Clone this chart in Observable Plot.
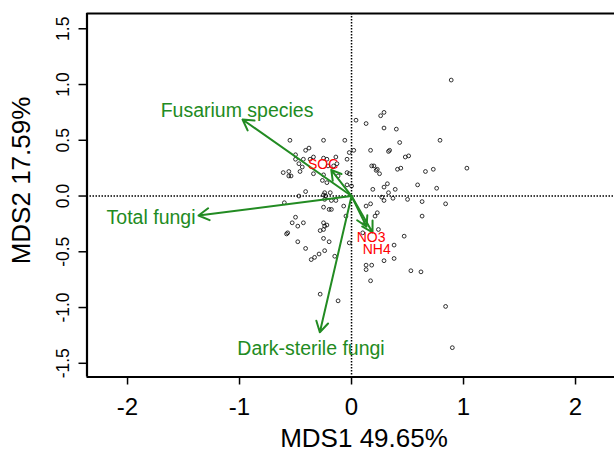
<!DOCTYPE html>
<html><head><meta charset="utf-8">
<script src="https://cdn.jsdelivr.net/npm/d3@7"></script>
<script src="https://cdn.jsdelivr.net/npm/@observablehq/plot@0.6"></script>
<style>
body{margin:0;background:#fff;}
#chart svg{display:block;overflow:visible;}
</style></head><body><div id="chart"></div>
<script>
// Site scores (MDS1, MDS2)
const siteX = [0.89,0.04,0.13,0.26,0.29,0.29,0.40,0.79,0.43,-0.55,-0.25,-0.06,-0.02,0.02,0.17,0.33,0.34,0.48,0.51,-0.50,
  -0.41,-0.38,-0.43,-0.34,-0.37,-0.47,-0.44,-0.50,-0.61,-0.56,-0.56,-0.54,-0.46,-0.25,-0.22,-0.13,-0.04,-0.14,-0.34,-0.26,
  -0.22,-0.12,-0.04,-0.02,-0.04,0.00,0.18,0.20,0.22,0.23,0.25,0.41,0.44,0.66,0.73,1.03,0.32,0.29,0.39,0.19,
  0.59,0.76,-0.41,-0.47,-0.24,-0.19,-0.23,-0.25,-0.60,-0.18,-0.14,0.27,0.29,0.37,0.50,0.63,0.84,0.17,0.13,-0.25,
  -0.20,-0.18,-0.07,-0.50,-0.05,0.23,0.21,0.63,-0.53,-0.48,-0.43,-0.25,-0.22,-0.24,-0.25,-0.28,-0.58,-0.57,-0.48,-0.25,
  -0.20,-0.41,-0.24,-0.29,-0.33,-0.36,-0.15,-0.02,0.12,0.24,0.47,0.38,0.38,0.29,0.13,0.13,0.18,0.53,0.62,0.17,
  -0.28,-0.12,0.84,0.90,-0.21,-0.16,0.10,0.33,-0.24,-0.25];
const siteY = [1.04,0.68,0.65,0.72,0.75,0.61,0.60,0.50,0.48,0.50,0.50,0.50,0.39,0.41,0.41,0.40,0.41,0.35,0.36,0.37,
  0.41,0.43,0.33,0.35,0.33,0.29,0.26,0.33,0.21,0.22,0.18,0.18,0.22,0.34,0.33,0.29,0.33,0.35,0.20,0.14,
  0.12,0.18,0.21,0.20,0.10,0.09,0.27,0.27,0.23,0.24,0.20,0.24,0.25,0.22,0.24,0.25,0.11,0.08,0.06,0.06,
  0.10,0.07,0.04,0.00,0.03,0.03,0.00,0.01,-0.06,-0.04,-0.04,-0.01,-0.04,-0.02,-0.03,-0.05,-0.07,-0.07,-0.09,-0.10,
  -0.12,-0.12,-0.09,-0.19,-0.18,-0.15,-0.18,-0.18,-0.24,-0.27,-0.24,-0.24,-0.26,-0.27,-0.30,-0.31,-0.34,-0.33,-0.41,-0.38,
  -0.41,-0.47,-0.49,-0.52,-0.55,-0.57,-0.54,-0.42,-0.24,-0.30,-0.36,-0.44,-0.56,-0.58,-0.62,-0.66,-0.62,-0.67,-0.68,-0.76,
  -0.88,-0.94,-0.99,-1.36,0.27,0.27,-0.33,0.03,-0.03,0.19];

// Species vectors
const speciesNames = ["Fusarium species", "Total fungi", "Dark-sterile fungi"];
const speciesX = [-0.973, -1.366, -0.283];
const speciesY = [0.686, -0.175, -1.222];
const speciesLabelX = [-1.022, -1.79, -0.362];
const speciesLabelY = [0.767, -0.193, -1.368];

// Environmental vectors
const envNames = ["SOC", "NO3", "NH4"];
const envX = [-0.181, 0.134, 0.1875];
const envY = [0.235, -0.274, -0.327];
const envLabelX = [-0.253, 0.174, 0.225];
const envLabelY = [0.283, -0.374, -0.477];

const xTicks = [-2, -1, 0, 1, 2];
const yTicks = [-1.5, -1, -0.5, 0, 0.5, 1, 1.5];
const xDomain = [-2.362, 2.348];
const yDomain = [-1.623, 1.637];
const xTitle = "MDS1 49.65%";
const yTitle = "MDS2 17.59%";

const sites = siteX.map((x, i) => ({x, y: siteY[i]}));
const species = speciesNames.map((name, i) => ({name, x0: 0, y0: 0, x: speciesX[i], y: speciesY[i], lx: speciesLabelX[i], ly: speciesLabelY[i]}));
const env = envNames.map((name, i) => ({name, x0: 0, y0: 0, x: envX[i], y: envY[i], lx: envLabelX[i], ly: envLabelY[i]}));
const green = "#228B22";

const chart = Plot.plot({
  width: 614, height: 450,
  marginLeft: 86.5, marginRight: 0, marginTop: 13, marginBottom: 73.5,
  style: {fontFamily: "'Liberation Sans', Arial, sans-serif", background: "white", overflow: "visible"},
  x: {domain: xDomain},
  y: {domain: yDomain},
  marks: [
    Plot.ruleX([0], {stroke: "black", strokeWidth: 1.5, strokeDasharray: "1.5,1.5"}),
    Plot.ruleY([0], {stroke: "black", strokeWidth: 1.5, strokeDasharray: "1.5,1.5"}),
    Plot.dot(sites, {x: "x", y: "y", r: 1.9, stroke: "black", strokeWidth: 0.8, fill: "none"}),
    Plot.arrow(species, {x1: "x0", y1: "y0", x2: "x", y2: "y", stroke: green, strokeWidth: 2, headLength: 9, headAngle: 60}),
    Plot.arrow(env, {x1: "x0", y1: "y0", x2: "x", y2: "y", stroke: green, strokeWidth: 2, headLength: 9, headAngle: 60}),
    Plot.text(species, {x: "lx", y: "ly", text: "name", fill: green, fontSize: 19.5}),
    Plot.text(env, {x: "lx", y: "ly", text: "name", fill: "#FF0000", fontSize: 14}),
    Plot.ruleX([xDomain[0]], {stroke: "black", strokeWidth: 2.2}),
    Plot.ruleY(yDomain, {stroke: "black", strokeWidth: 2.2}),
    Plot.axisX({ticks: xTicks, tickSize: 8, tickPadding: 13, fontSize: 24, tickFormat: d => String(d), label: null, strokeWidth: 1.5}),
    Plot.axisY({ticks: yTicks, tickSize: 8, tickFormat: () => "", label: null, strokeWidth: 1.5}),
    Plot.text(yTicks, {y: d => d, text: d => d.toFixed(1), frameAnchor: "left", dx: -23.5, rotate: -90, textAnchor: "middle", lineAnchor: "middle", fontSize: 17.5, fill: "black"}),
    Plot.text([xTitle], {frameAnchor: "bottom", dx: 13.25, dy: 62, textAnchor: "middle", lineAnchor: "middle", fontSize: 26, fill: "black"}),
    Plot.text([yTitle], {frameAnchor: "left", dx: -65, dy: -14.75, rotate: -90, textAnchor: "middle", lineAnchor: "middle", fontSize: 26, fill: "black"})
  ]
});
document.getElementById("chart").appendChild(chart);
</script></body></html>
